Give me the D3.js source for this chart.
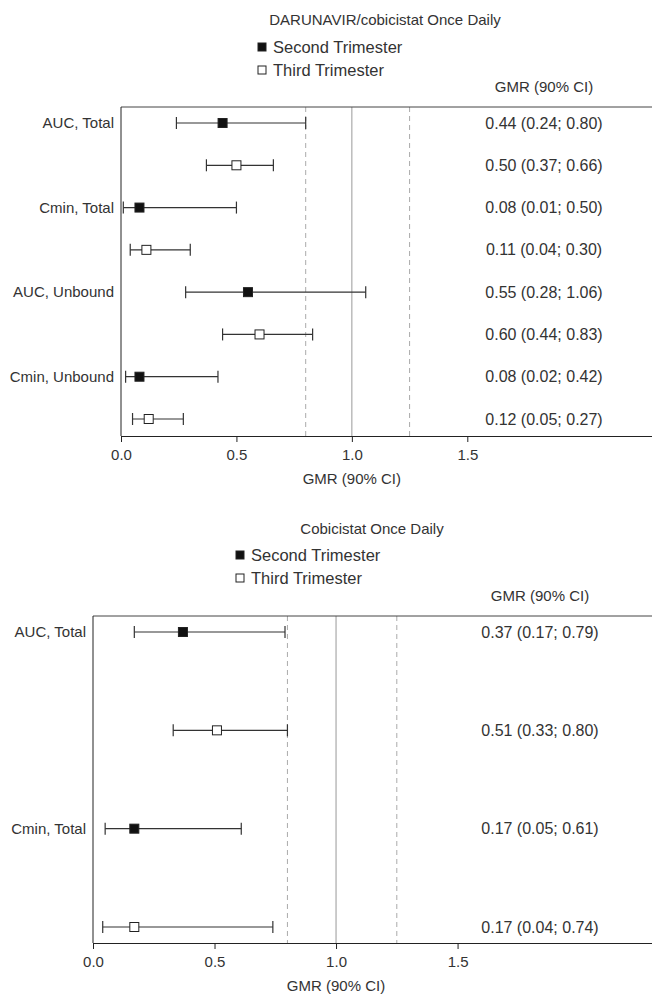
<!DOCTYPE html>
<html>
<head>
<meta charset="utf-8">
<script src="https://cdn.jsdelivr.net/npm/d3@7"></script>
<style>
  body { margin: 0; background: #fff; }
  svg text { font-family: "Liberation Sans", Arial, sans-serif; fill: #333; }
</style>
</head>
<body>
<svg id="chart" width="652" height="996"></svg>
<script>
// ---- data ----
const trimesters = ["Second Trimester", "Third Trimester"];
const xTicks = [0, 0.5, 1.0, 1.5];
const refLines = [0.8, 1.25];

// DARUNAVIR/cobicistat
const drvCategories = ["AUC, Total", "Cmin, Total", "AUC, Unbound", "Cmin, Unbound"];
const drvSecondGmr = [0.44, 0.08, 0.55, 0.08];
const drvSecondLow = [0.24, 0.01, 0.28, 0.02];
const drvSecondHigh = [0.80, 0.50, 1.06, 0.42];
const drvThirdGmr = [0.50, 0.11, 0.60, 0.12];
const drvThirdLow = [0.37, 0.04, 0.44, 0.05];
const drvThirdHigh = [0.66, 0.30, 0.83, 0.27];

// cobicistat
const cobiCategories = ["AUC, Total", "Cmin, Total"];
const cobiSecondGmr = [0.37, 0.17];
const cobiSecondLow = [0.17, 0.05];
const cobiSecondHigh = [0.79, 0.61];
const cobiThirdGmr = [0.51, 0.17];
const cobiThirdLow = [0.33, 0.04];
const cobiThirdHigh = [0.80, 0.74];

// build rows: each category gets second then third trimester
function buildRows(cats, sg, sl, sh, tg, tl, th) {
    const rows = [];
    cats.forEach((c, i) => {
        rows.push({ id: c + "|2", label: c, filled: true, gmr: sg[i], lo: sl[i], hi: sh[i] });
        rows.push({ id: c + "|3", label: "", filled: false, gmr: tg[i], lo: tl[i], hi: th[i] });
    });
    return rows;
}

const svg = d3.select("#chart");
const fmt = d3.format(".2f");

function drawPanel(opts, rows) {
    const g = svg.append("g");
    const x = d3.scaleLinear().domain([0, 2.3]).range([opts.left, 652]);
    const y = d3.scalePoint().domain(rows.map(r => r.id))
        .range([opts.top + opts.padTop, opts.bottom - opts.padBottom]);

    // title
    g.append("text").attr("x", opts.titleX).attr("y", opts.titleY)
        .attr("text-anchor", "middle").style("font-size", "15px").text(opts.title);

    // legend
    trimesters.forEach((t, i) => {
        const ly = opts.legendY + i * 23;
        g.append("rect").attr("x", opts.legendX - 4).attr("y", ly - 4)
            .attr("width", 8).attr("height", 8)
            .attr("fill", i === 0 ? "#111" : "#fff")
            .attr("stroke", "#222").attr("stroke-width", 1);
        g.append("text").attr("x", opts.legendX + 11).attr("y", ly)
            .attr("dy", "0.35em").style("font-size", "16.5px").text(t);
    });

    // column header
    g.append("text").attr("x", opts.valueX).attr("y", opts.top - 15)
        .attr("text-anchor", "middle").style("font-size", "15px").text("GMR (90% CI)");

    // reference lines
    g.append("line").attr("x1", x(1)).attr("x2", x(1))
        .attr("y1", opts.top).attr("y2", opts.bottom)
        .attr("stroke", "#999").attr("stroke-width", 1);
    refLines.forEach(v => {
        g.append("line").attr("x1", x(v)).attr("x2", x(v))
            .attr("y1", opts.top).attr("y2", opts.bottom)
            .attr("stroke", "#aaa").attr("stroke-width", 1)
            .attr("stroke-dasharray", "5,4");
    });

    // frame: top, left
    g.append("line").attr("x1", opts.left).attr("x2", 652)
        .attr("y1", opts.top).attr("y2", opts.top).attr("stroke", "#444");
    g.append("line").attr("x1", opts.left).attr("x2", opts.left)
        .attr("y1", opts.top).attr("y2", opts.bottom).attr("stroke", "#222");

    // x axis
    const ax = g.append("g").attr("transform", `translate(0,${opts.bottom})`)
        .call(d3.axisBottom(x).tickValues(xTicks).tickFormat(d3.format(".1f"))
            .tickSize(6).tickSizeOuter(0));
    ax.select(".domain").attr("stroke", "#222");
    ax.selectAll(".tick line").attr("stroke", "#222");
    ax.selectAll(".tick text").attr("dy", "1.0em").style("font-size", "15px")
        .style("fill", "#333").attr("font-family", null);
    g.append("text").attr("x", x(1)).attr("y", opts.bottom + 48)
        .attr("text-anchor", "middle").style("font-size", "15px").text("GMR (90% CI)");

    // row labels
    rows.filter(r => r.label).forEach(r => {
        g.append("text").attr("x", opts.left - 7).attr("y", y(r.id))
            .attr("dy", "0.35em").attr("text-anchor", "end")
            .style("font-size", "15px").text(r.label);
    });

    // error bars
    const bars = g.selectAll(".bar").data(rows).join("g").attr("class", "bar");
    bars.append("line").attr("x1", d => x(d.lo)).attr("x2", d => x(d.hi))
        .attr("y1", d => y(d.id)).attr("y2", d => y(d.id))
        .attr("stroke", "#333").attr("stroke-width", 1.2);
    bars.append("line").attr("x1", d => x(d.lo)).attr("x2", d => x(d.lo))
        .attr("y1", d => y(d.id) - 6).attr("y2", d => y(d.id) + 6)
        .attr("stroke", "#333").attr("stroke-width", 1.2);
    bars.append("line").attr("x1", d => x(d.hi)).attr("x2", d => x(d.hi))
        .attr("y1", d => y(d.id) - 6).attr("y2", d => y(d.id) + 6)
        .attr("stroke", "#333").attr("stroke-width", 1.2);
    bars.append("rect").attr("x", d => x(d.gmr) - 4.5).attr("y", d => y(d.id) - 4.5)
        .attr("width", 9).attr("height", 9)
        .attr("fill", d => d.filled ? "#111" : "#fff")
        .attr("stroke", "#222").attr("stroke-width", 1);

    // values column
    bars.append("text").attr("x", opts.valueX).attr("y", d => y(d.id))
        .attr("dy", "0.35em").attr("text-anchor", "middle").style("font-size", "16px")
        .text(d => `${fmt(d.gmr)} (${fmt(d.lo)}; ${fmt(d.hi)})`);
}

drawPanel({
    title: "DARUNAVIR/cobicistat Once Daily", titleX: 385, titleY: 25,
    legendX: 262, legendY: 47, valueX: 544,
    left: 121, top: 107, bottom: 436, padTop: 16, padBottom: 17
}, buildRows(drvCategories, drvSecondGmr, drvSecondLow, drvSecondHigh,
    drvThirdGmr, drvThirdLow, drvThirdHigh));

drawPanel({
    title: "Cobicistat Once Daily", titleX: 372, titleY: 534,
    legendX: 240, legendY: 555, valueX: 540,
    left: 93, top: 616, bottom: 943, padTop: 16, padBottom: 16
}, buildRows(cobiCategories, cobiSecondGmr, cobiSecondLow, cobiSecondHigh,
    cobiThirdGmr, cobiThirdLow, cobiThirdHigh));
</script>
</body>
</html>
